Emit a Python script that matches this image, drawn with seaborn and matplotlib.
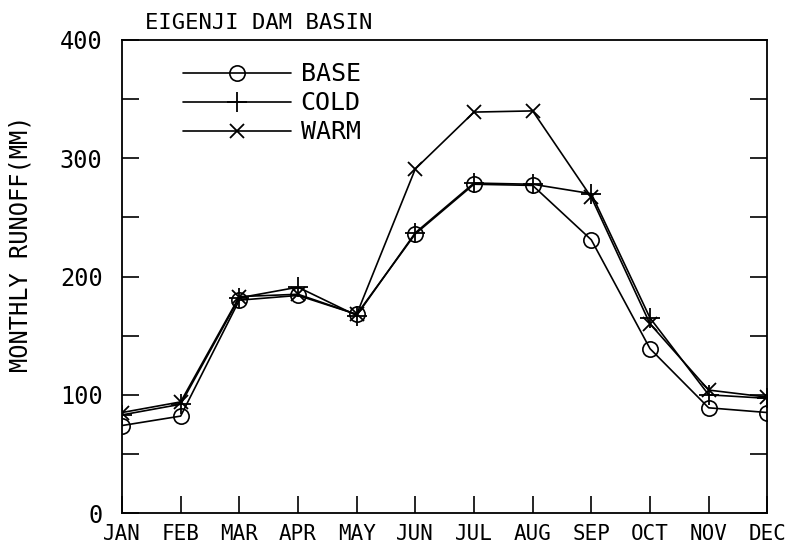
import pandas as pd
import seaborn as sns
import matplotlib.pyplot as plt
from matplotlib.ticker import MultipleLocator

months = ['JAN', 'FEB', 'MAR', 'APR', 'MAY', 'JUN', 'JUL', 'AUG', 'SEP', 'OCT', 'NOV', 'DEC']
base = [74, 82, 180, 184, 168, 236, 278, 277, 231, 139, 89, 85]
cold = [83, 92, 182, 191, 167, 237, 279, 278, 270, 165, 100, 97]
warm = [85, 94, 183, 185, 168, 291, 339, 340, 267, 160, 104, 98]

x = list(range(len(months)))

sns.set_style('ticks')
plt.rcParams['font.family'] = ['DejaVu Sans Mono']
plt.rcParams['text.color'] = 'black'
plt.rcParams['axes.labelcolor'] = 'black'

fig = plt.figure(figsize=(7.87, 5.47), dpi=100)
ax = fig.add_axes([0.155, 0.062, 0.82, 0.865])

#plot the three scenarios
sns.lineplot(x=x, y=base, ax=ax, color='black', lw=1.2, marker='o', ms=11,
             mfc='none', mec='black', mew=1.2, label='BASE')
sns.lineplot(x=x, y=cold, ax=ax, color='black', lw=1.2, marker='+', ms=14,
             mec='black', mew=1.3, label='COLD')
sns.lineplot(x=x, y=warm, ax=ax, color='black', lw=1.2, marker='x', ms=10,
             mec='black', mew=1.3, label='WARM')

ax.set_xlim(0, 11)
ax.set_ylim(0, 400)
ax.set_xticks(x)
ax.set_xticklabels(months)
ax.yaxis.set_major_locator(MultipleLocator(100))
ax.yaxis.set_minor_locator(MultipleLocator(50))
ax.tick_params(axis='both', which='both', direction='in', length=12, width=1.2,
               colors='black')
ax.tick_params(axis='y', which='both', right=True, pad=14, labelsize=17)
ax.tick_params(axis='x', pad=8, labelsize=15)
for s in ax.spines.values():
    s.set_linewidth(1.3)
    s.set_color('black')

ax.set_xlabel('')
ax.set_ylabel('MONTHLY RUNOFF(MM)', fontsize=17)
ax.yaxis.set_label_coords(-0.138, 0.57)
ax.set_title('EIGENJI DAM BASIN', fontsize=16, loc='left', x=0.035, pad=8)

ax.legend(loc='upper left', bbox_to_anchor=(0.06, 1.0), frameon=False,
          fontsize=18, handlelength=4.3, handletextpad=0.4, labelspacing=0.2)

fig.savefig('out.png', dpi=100)
